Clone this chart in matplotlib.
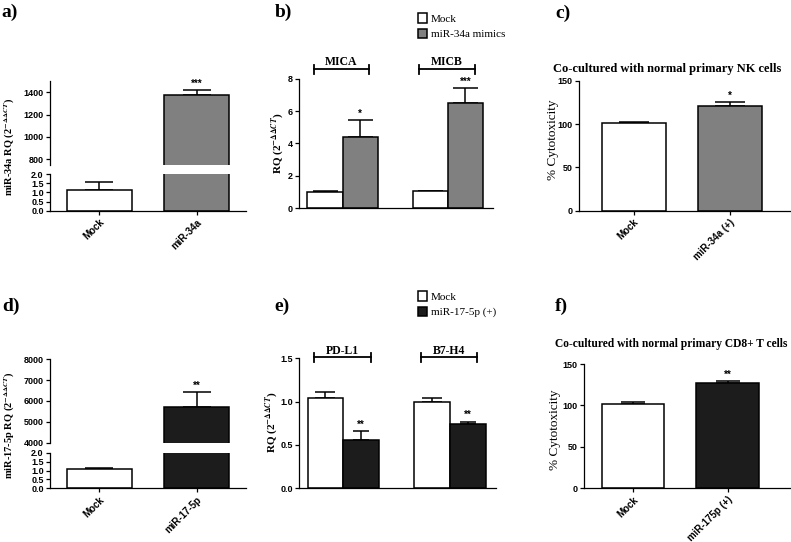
import matplotlib
matplotlib.use("Agg")
import matplotlib.pyplot as plt
from matplotlib.transforms import blended_transform_factory

plt.rcParams['mathtext.fontset'] = 'stix'
plt.rcParams['font.family'] = ['Liberation Sans', 'DejaVu Sans']
plt.rcParams['font.weight'] = 'bold'

# ---- data ----
a_labels = ['Mock', 'miR-34a']
a_vals = [1.13, 1372]
a_errs = [0.42, 50]

b_groups = ['MICA', 'MICB']
b_mock = [1.02, 1.05]
b_mock_err = [0.05, 0.03]
b_mimic = [4.40, 6.48]
b_mimic_err = [1.03, 0.95]
b_stars = ['*', '***']

c_labels = ['Mock', 'miR-34a (+)']
c_vals = [101, 121]
c_errs = [2, 5]

d_labels = ['Mock', 'miR-17-5p']
d_vals = [1.07, 5730]
d_errs = [0.08, 690]

e_groups = ['PD-L1', 'B7-H4']
e_mock = [1.045, 1.0]
e_mock_err = [0.065, 0.045]
e_mir = [0.557, 0.745]
e_mir_err = [0.10, 0.025]
e_stars = ['**', '**']

f_labels = ['Mock', 'miR-175p (+)']
f_vals = [101.7, 127.5]
f_errs = [2.5, 2.0]

GRAY = '#808080'
BLACK = '#1c1c1c'
W, H = 791, 542
fig = plt.figure(figsize=(W / 100, H / 100), dpi=100)

SERIF = ['Liberation Serif', 'DejaVu Serif']
LW = 1.1


def add_ax(left, top, right, bottom):
    return fig.add_axes([left / W, 1 - bottom / H, (right - left) / W, (bottom - top) / H])


def style(ax, bottom=True):
    ax.spines['top'].set_visible(False)
    ax.spines['right'].set_visible(False)
    ax.spines['left'].set_linewidth(0.9)
    ax.spines['bottom'].set_linewidth(0.9)
    ax.tick_params(width=0.9, length=3, pad=1.5)
    ax.tick_params(axis='y', labelsize=6.5)
    ax.tick_params(axis='x', labelsize=7)
    if not bottom:
        ax.spines['bottom'].set_visible(False)
        ax.tick_params(axis='x', bottom=False, labelbottom=False)


def bars_with_err(ax, x, vals, errs, colors, width, capsize, stars=None):
    ax.bar(x, vals, width, color=colors, edgecolor='black', linewidth=LW, zorder=2)
    ax.errorbar(x, vals, yerr=[[0] * len(vals), errs], fmt='none', ecolor='black',
                elinewidth=LW, capsize=capsize, capthick=LW, zorder=1)
    if stars:
        for xi, v, e, s in zip(x, vals, errs, stars):
            if s:
                ax.annotate(s, (xi, v + e), xytext=(0, 1), textcoords='offset points',
                            ha='center', va='bottom', fontsize=7, annotation_clip=False)


def xlabels(ax, labels):
    ax.set_xticks(range(len(labels)))
    ax.set_xticklabels(labels, rotation=45, ha='right', rotation_mode='anchor')


def broken_panel(upper_box, lower_box, labels, vals, errs, colors, ylim_up, ticks_up, star, cap):
    up = add_ax(*upper_box)
    lo = add_ax(*lower_box)
    x = range(len(vals))
    for ax in (up, lo):
        ax.bar(x, vals, 0.67, color=colors, edgecolor='black', linewidth=LW, zorder=2)
        ax.set_xlim(-0.51, 1.51)
    up.errorbar(x, vals, yerr=[[0, 0], errs], fmt='none', ecolor='black',
                elinewidth=LW, capsize=cap, capthick=LW, zorder=1)
    lo.errorbar(x, vals, yerr=[[0, 0], errs], fmt='none', ecolor='black',
                elinewidth=LW, capsize=cap, capthick=LW, zorder=1)
    up.annotate(star, (1, vals[1] + errs[1]), xytext=(0, 1), textcoords='offset points',
                ha='center', va='bottom', fontsize=7, annotation_clip=False)
    up.set_ylim(*ylim_up)
    up.set_yticks(ticks_up)
    lo.set_ylim(0, 2)
    lo.set_yticks([0, 0.5, 1.0, 1.5, 2.0])
    lo.set_yticklabels(['0.0', '0.5', '1.0', '1.5', '2.0'])
    style(up, bottom=False)
    style(lo)
    xlabels(lo, labels)
    return up, lo


def grouped_panel(box, groups, mock, mock_err, treat, treat_err, tcolor, stars, caps,
                  ylim, yticks, yticklabels, bracket_y, text_y, legend_labels, legend_xy):
    ax = add_ax(*box)
    w = 0.335
    gx = list(range(len(groups)))
    xm = [g - w / 2 for g in gx]
    xt = [g + w / 2 for g in gx]
    bm = ax.bar(xm, mock, w, color='white', edgecolor='black', linewidth=LW, zorder=2)
    bt = ax.bar(xt, treat, w, color=tcolor, edgecolor='black', linewidth=LW, zorder=2)
    ax.errorbar(xm, mock, yerr=[[0] * len(mock), mock_err], fmt='none', ecolor='black',
                elinewidth=LW, capsize=caps[0], capthick=LW, zorder=1)
    ax.errorbar(xt, treat, yerr=[[0] * len(treat), treat_err], fmt='none', ecolor='black',
                elinewidth=LW, capsize=caps[1], capthick=LW, zorder=1)
    for xi, v, e, s in zip(xt, treat, treat_err, stars):
        ax.annotate(s, (xi, v + e), xytext=(0, 1), textcoords='offset points',
                    ha='center', va='bottom', fontsize=7, annotation_clip=False)
    ax.set_xlim(-0.415, 1.43)
    ax.set_ylim(*ylim)
    ax.set_yticks(yticks)
    ax.set_yticklabels(yticklabels)
    style(ax)
    ax.tick_params(axis='x', bottom=False, labelbottom=False)
    tr = blended_transform_factory(ax.transData, ax.transAxes)
    for g, name in zip(gx, groups):
        ax.plot([g - 0.275, g + 0.255], [bracket_y, bracket_y], color='black', lw=1.3,
                transform=tr, clip_on=False)
        for ex in (g - 0.275, g + 0.255):
            ax.plot([ex, ex], [bracket_y - 0.035, bracket_y + 0.035], color='black', lw=1.3,
                    transform=tr, clip_on=False)
        ax.text(g - 0.01, text_y, name, transform=tr, ha='center', va='center',
                fontsize=8.5, family=SERIF, weight='bold')
    ax.legend([bm, bt], legend_labels, loc='upper left', bbox_to_anchor=legend_xy,
              bbox_transform=fig.transFigure, frameon=False,
              prop={'family': SERIF, 'size': 8, 'weight': 'normal'},
              handlelength=0.85, handleheight=0.95, handletextpad=0.3,
              labelspacing=0.45, borderpad=0, borderaxespad=0)
    return ax


def simple_panel(box, labels, vals, errs, colors, xlim, width, cap, star, title, title_xy,
                 title_size):
    ax = add_ax(*box)
    bars_with_err(ax, range(len(vals)), vals, errs, colors, width, cap, ['', star])
    ax.set_xlim(*xlim)
    ax.set_ylim(0, 150)
    ax.set_yticks([0, 50, 100, 150])
    style(ax)
    xlabels(ax, labels)
    fig.text(title_xy[0] / W, 1 - title_xy[1] / H, title, ha='left', va='center',
             fontsize=title_size, family=SERIF, weight='bold')
    return ax


# ---- panel a ----
broken_panel((50, 81, 246, 165), (50, 174, 246, 211), a_labels, a_vals, a_errs,
             ['white', GRAY], (750, 1500), [800, 1000, 1200, 1400], '***', 10.4)
fig.text(10 / W, 1 - 147 / H, r'miR-34a RQ (2$^{-\Delta\Delta CT}$)', rotation=90,
         ha='center', va='center', fontsize=7.5, family=SERIF, weight='bold')

# ---- panel d ----
broken_panel((50, 359.3, 246, 442.7), (50, 452.7, 246, 488.3), d_labels, d_vals, d_errs,
             ['white', BLACK], (4000, 8000), [4000, 5000, 6000, 7000, 8000], '**', 10)
fig.text(10 / W, 1 - 425 / H, r'miR-17-5p RQ (2$^{-\Delta\Delta CT}$)', rotation=90,
         ha='center', va='center', fontsize=7.5, family=SERIF, weight='bold')

# ---- panel b ----
grouped_panel((299, 78.7, 493, 208.3), b_groups, b_mock, b_mock_err, b_mimic, b_mimic_err,
              GRAY, b_stars, (9, 9), (0, 8), [0, 2, 4, 6, 8], ['0', '2', '4', '6', '8'],
              1.073, 1.13, ['Mock', 'miR-34a mimics'], (418 / W, 1 - 13 / H))
fig.text(278 / W, 1 - 143 / H, r'RQ (2$^{-\Delta\Delta CT}$)', rotation=90,
         ha='center', va='center', fontsize=8, family=SERIF, weight='bold')

# ---- panel e ----
grouped_panel((299, 358.3, 496, 488.3), e_groups, e_mock, e_mock_err, e_mir, e_mir_err,
              BLACK, e_stars, (7, 6), (0, 1.5), [0, 0.5, 1.0, 1.5],
              ['0.0', '0.5', '1.0', '1.5'], 1.008, 1.058, ['Mock', 'miR-17-5p (+)'],
              (418 / W, 1 - 291 / H))
fig.text(272 / W, 1 - 422 / H, r'RQ (2$^{-\Delta\Delta CT}$)', rotation=90,
         ha='center', va='center', fontsize=8, family=SERIF, weight='bold')

# ---- panel c ----
simple_panel((579, 81, 790, 210.7), c_labels, c_vals, c_errs, ['white', GRAY],
             (-0.568, 1.63), 0.667, 11, '*', 'Co-cultured with normal primary NK cells',
             (553, 69), 9)
fig.text(553 / W, 1 - 140 / H, '% Cytotoxicity', rotation=90, ha='center', va='center',
         fontsize=9.5, family=SERIF, weight='normal')

# ---- panel f ----
simple_panel((584, 364, 790, 488.3), f_labels, f_vals, f_errs, ['white', BLACK],
             (-0.52, 1.66), 0.66, 8.5, '**', 'Co-cultured with normal primary CD8+ T cells',
             (555, 344), 8.3)
fig.text(555 / W, 1 - 430 / H, '% Cytotoxicity', rotation=90, ha='center', va='center',
         fontsize=9.5, family=SERIF, weight='normal')

# ---- panel letters ----
for letter, px, py in [('a)', 1, 12.5), ('b)', 275, 12), ('c)', 555, 13),
                       ('d)', 2, 306.7), ('e)', 274, 306.7), ('f)', 555, 306.7)]:
    fig.text(px / W, 1 - py / H, letter, ha='left', va='center', fontsize=14,
             family=SERIF, weight='bold')

fig.savefig('out.png', dpi=100)
